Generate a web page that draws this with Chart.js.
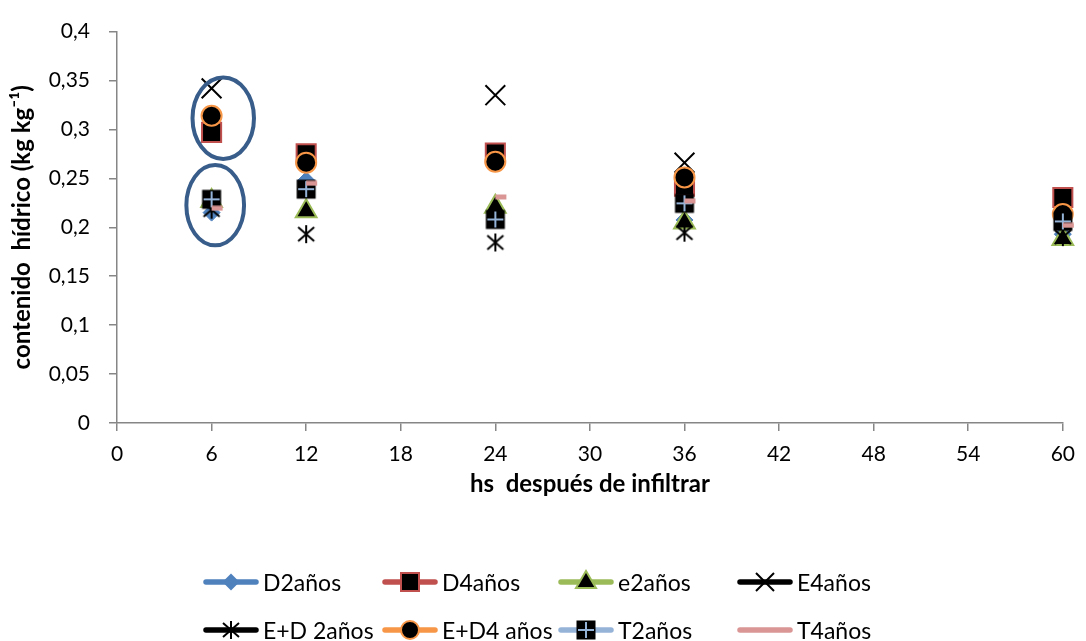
<!DOCTYPE html>
<html><head><meta charset="utf-8">
<script src="https://cdn.jsdelivr.net/npm/chart.js@4.4.1/dist/chart.umd.min.js"></script>
<style>
html,body{margin:0;padding:0;background:#fff;}
#wrap{position:relative;width:1086px;height:641px;font-family:Lato,'Open Sans',sans-serif;overflow:hidden;}
#c{position:absolute;left:0;top:0;}
.li{position:absolute;display:flex;align-items:center;font-size:23px;color:#000;white-space:nowrap;line-height:1;transform:translateY(-50%);}
.li canvas{display:block;margin-right:4px;}
</style></head>
<body><div id="wrap"><canvas id="c" width="1086" height="641"></canvas><div id="legend"></div></div>
<script>
// ---- data ----
const hours = [6, 12, 24, 36, 60];
const seriesNames = ['D2años', 'D4años', 'e2años', 'E4años', 'E+D 2años', 'E+D4 años', 'T2años', 'T4años'];
const D2  = [0.215, 0.248, 0.21, 0.2075, 0.193];
const D4  = [0.297, 0.275, 0.276, 0.242, 0.2305];
const e2  = [0.227, 0.2165, 0.221, 0.205, 0.188];
const E4  = [0.342, null, 0.335, 0.266, null];
const ED2 = [0.218, 0.193, 0.1845, 0.1945, 0.19];
const ED4 = [0.314, 0.266, 0.267, 0.251, 0.2135];
const T2  = [0.2286, 0.239, 0.208, 0.2245, 0.206];
const T4  = [0.2195, 0.245, 0.231, 0.227, 0.202];
const xTicks = [0, 6, 12, 18, 24, 30, 36, 42, 48, 54, 60];
const xTickLabels = ['0', '6', '12', '18', '24', '30', '36', '42', '48', '54', '60'];
const yTicks = [0, 0.05, 0.1, 0.15, 0.2, 0.25, 0.3, 0.35, 0.4];
const yTickLabels = ['0', '0,05', '0,1', '0,15', '0,2', '0,25', '0,3', '0,35', '0,4'];
const xTitle = 'hs  después de infiltrar';
const yTitle = 'contenido  hídrico (kg kg⁻¹)';

// ---- styles ----
const FONT = 'Lato';
const colors = ['#4F81BD', '#C0504D', '#9BBB59', '#000000', '#000000', '#F79646', '#95B3D7', '#D99694'];

function makeCanvas(w, h, draw) {
  const c = document.createElement('canvas');
  c.width = w; c.height = h;
  draw(c.getContext('2d'), w, h);
  return c;
}
// asterisk marker (vertical + two diagonals)
const asteriskImg = makeCanvas(22, 22, (g) => {
  g.strokeStyle = '#000'; g.lineWidth = 2; g.lineCap = 'butt';
  g.beginPath();
  g.moveTo(11, 2); g.lineTo(11, 20);
  g.moveTo(3, 4); g.lineTo(19, 18);
  g.moveTo(19, 4); g.lineTo(3, 18);
  g.stroke();
});
// square with plus
const plusSquareImg = makeCanvas(22, 22, (g) => {
  g.fillStyle = '#000'; g.fillRect(1.5, 1.5, 19, 19);
  g.strokeStyle = '#95B3D7'; g.lineWidth = 2;
  g.beginPath();
  g.moveTo(11, 3); g.lineTo(11, 19);
  g.moveTo(3, 11); g.lineTo(19, 11);
  g.stroke();
});
// dash marker
const dashImg = makeCanvas(34, 6, (g) => {
  g.fillStyle = '#D99694'; g.fillRect(17, 0.5, 11, 5);
});

const mk = (arr) => hours.map((h, i) => ({x: h, y: arr[i]})).filter(p => p.y !== null);
const base = {showLine: false, clip: false};
const datasets = [
  Object.assign({label: seriesNames[0], data: mk(D2), pointStyle: 'rectRot', pointRadius: 8.5, pointBackgroundColor: colors[0], pointBorderColor: colors[0], pointBorderWidth: 1, order: 7}, base),
  Object.assign({label: seriesNames[1], data: mk(D4), pointStyle: 'rect', pointRadius: 13.5, pointBackgroundColor: '#000', pointBorderColor: colors[1], pointBorderWidth: 2, order: 6}, base),
  Object.assign({label: seriesNames[2], data: mk(e2), pointStyle: 'triangle', pointRadius: 12, pointBackgroundColor: '#000', pointBorderColor: colors[2], pointBorderWidth: 2, order: 5}, base),
  Object.assign({label: seriesNames[3], data: mk(E4), pointStyle: 'crossRot', pointRadius: 14, pointBackgroundColor: '#000', pointBorderColor: '#000', pointBorderWidth: 2, order: 4}, base),
  Object.assign({label: seriesNames[4], data: mk(ED2), pointStyle: asteriskImg, pointRadius: 10, order: 3}, base),
  Object.assign({label: seriesNames[5], data: mk(ED4), pointStyle: 'circle', pointRadius: 10, pointBackgroundColor: '#000', pointBorderColor: colors[5], pointBorderWidth: 2, order: 2}, base),
  Object.assign({label: seriesNames[6], data: mk(T2), pointStyle: plusSquareImg, pointRadius: 10, order: 1}, base),
  Object.assign({label: seriesNames[7], data: mk(T4), pointStyle: dashImg, pointRadius: 6, order: 0}, base)
];

// annotation ellipses (in data units)
const ellipses = [
  {cx: 6.74, cy: 0.3115, rx: 1.95, ry: 0.0416},
  {cx: 6.23, cy: 0.2226, rx: 1.83, ry: 0.041}
];
const ellipsePlugin = {
  id: 'ellipses',
  afterDatasetsDraw(chart) {
    const {ctx, scales: {x, y}} = chart;
    ctx.save();
    ctx.strokeStyle = '#385D8A'; ctx.lineWidth = 4;
    ellipses.forEach(e => {
      const px = x.getPixelForValue(e.cx), py = y.getPixelForValue(e.cy);
      const rx = Math.abs(x.getPixelForValue(e.cx + e.rx) - px);
      const ry = Math.abs(y.getPixelForValue(e.cy + e.ry) - py);
      ctx.beginPath(); ctx.ellipse(px, py, rx, ry, 0, 0, Math.PI * 2); ctx.stroke();
    });
    ctx.restore();
  }
};

const axisColor = '#868686';
new Chart(document.getElementById('c'), {
  type: 'scatter',
  data: {datasets},
  plugins: [ellipsePlugin],
  options: {
    responsive: false, animation: false, events: [],
    layout: {padding: {left: 0, top: 24, right: 16, bottom: 138}},
    plugins: {legend: {display: false}, tooltip: {enabled: false}},
    scales: {
      x: {
        type: 'linear', min: 0, max: 60,
        afterBuildTicks: s => { s.ticks = xTicks.map(v => ({value: v})); },
        afterFit: s => { s.height = 80; },
        ticks: {callback: (v, i) => xTickLabels[i], font: {family: FONT, size: 21}, color: '#000', padding: 11, maxRotation: 0, autoSkip: false},
        grid: {drawOnChartArea: false, drawTicks: true, tickLength: 8, color: axisColor, lineWidth: 1.5},
        border: {display: true, color: axisColor, width: 1.5},
        title: {display: true, text: xTitle, font: {family: FONT, size: 24, weight: 'bold'}, color: '#000', padding: {top: 0, bottom: 4}}
      },
      y: {
        type: 'linear', min: 0, max: 0.4,
        afterBuildTicks: s => { s.ticks = yTicks.map(v => ({value: v})); },
        afterFit: s => { s.width = 117; },
        ticks: {callback: (v, i) => yTickLabels[i], font: {family: FONT, size: 21}, color: '#000', padding: 19, autoSkip: false},
        grid: {drawOnChartArea: false, drawTicks: true, tickLength: 8, color: axisColor, lineWidth: 1.5},
        border: {display: true, color: axisColor, width: 1.5},
        title: {display: true, text: yTitle, font: {family: FONT, size: 24, weight: 'bold'}, color: '#000', padding: {top: 8, bottom: 0}}
      }
    }
  }
});

// ---- HTML legend (Excel-like grid) ----
const legendCols = [203, 382, 558, 737];
const legendRows = [582, 630];
function legendSymbol(i) {
  return makeCanvas(56, 28, (g, w, h) => {
    const cy = h / 2, cx = w / 2;
    g.strokeStyle = colors[i]; g.lineWidth = 5.5; g.lineCap = 'round';
    g.beginPath(); g.moveTo(3, cy); g.lineTo(w - 3, cy); g.stroke();
    g.lineCap = 'butt';
    if (i === 0) { g.fillStyle = colors[0]; g.beginPath(); g.moveTo(cx, cy - 8.5); g.lineTo(cx + 8.5, cy); g.lineTo(cx, cy + 8.5); g.lineTo(cx - 8.5, cy); g.closePath(); g.fill(); }
    if (i === 1) { g.fillStyle = '#000'; g.fillRect(cx - 9, cy - 9, 18, 18); g.strokeStyle = colors[1]; g.lineWidth = 2; g.strokeRect(cx - 9, cy - 9, 18, 18); }
    if (i === 2) { g.fillStyle = '#000'; g.strokeStyle = colors[2]; g.lineWidth = 2; g.beginPath(); g.moveTo(cx, cy - 11); g.lineTo(cx + 10, cy + 6); g.lineTo(cx - 10, cy + 6); g.closePath(); g.fill(); g.stroke(); }
    if (i === 3) { g.strokeStyle = '#000'; g.lineWidth = 2; g.beginPath(); g.moveTo(cx - 9, cy - 9); g.lineTo(cx + 9, cy + 9); g.moveTo(cx + 9, cy - 9); g.lineTo(cx - 9, cy + 9); g.stroke(); }
    if (i === 4) { g.drawImage(asteriskImg, cx - 11, cy - 11); }
    if (i === 5) { g.fillStyle = '#000'; g.strokeStyle = colors[5]; g.lineWidth = 2; g.beginPath(); g.arc(cx, cy, 9, 0, Math.PI * 2); g.fill(); g.stroke(); }
    if (i === 6) { g.drawImage(plusSquareImg, cx - 11, cy - 11); }
  });
}
const leg = document.getElementById('legend');
seriesNames.forEach((name, i) => {
  const d = document.createElement('div');
  d.className = 'li';
  d.style.left = legendCols[i % 4] + 'px';
  d.style.top = legendRows[Math.floor(i / 4)] + 'px';
  d.appendChild(legendSymbol(i));
  const s = document.createElement('span');
  s.textContent = name;
  d.appendChild(s);
  leg.appendChild(d);
});
</script>
</body></html>
